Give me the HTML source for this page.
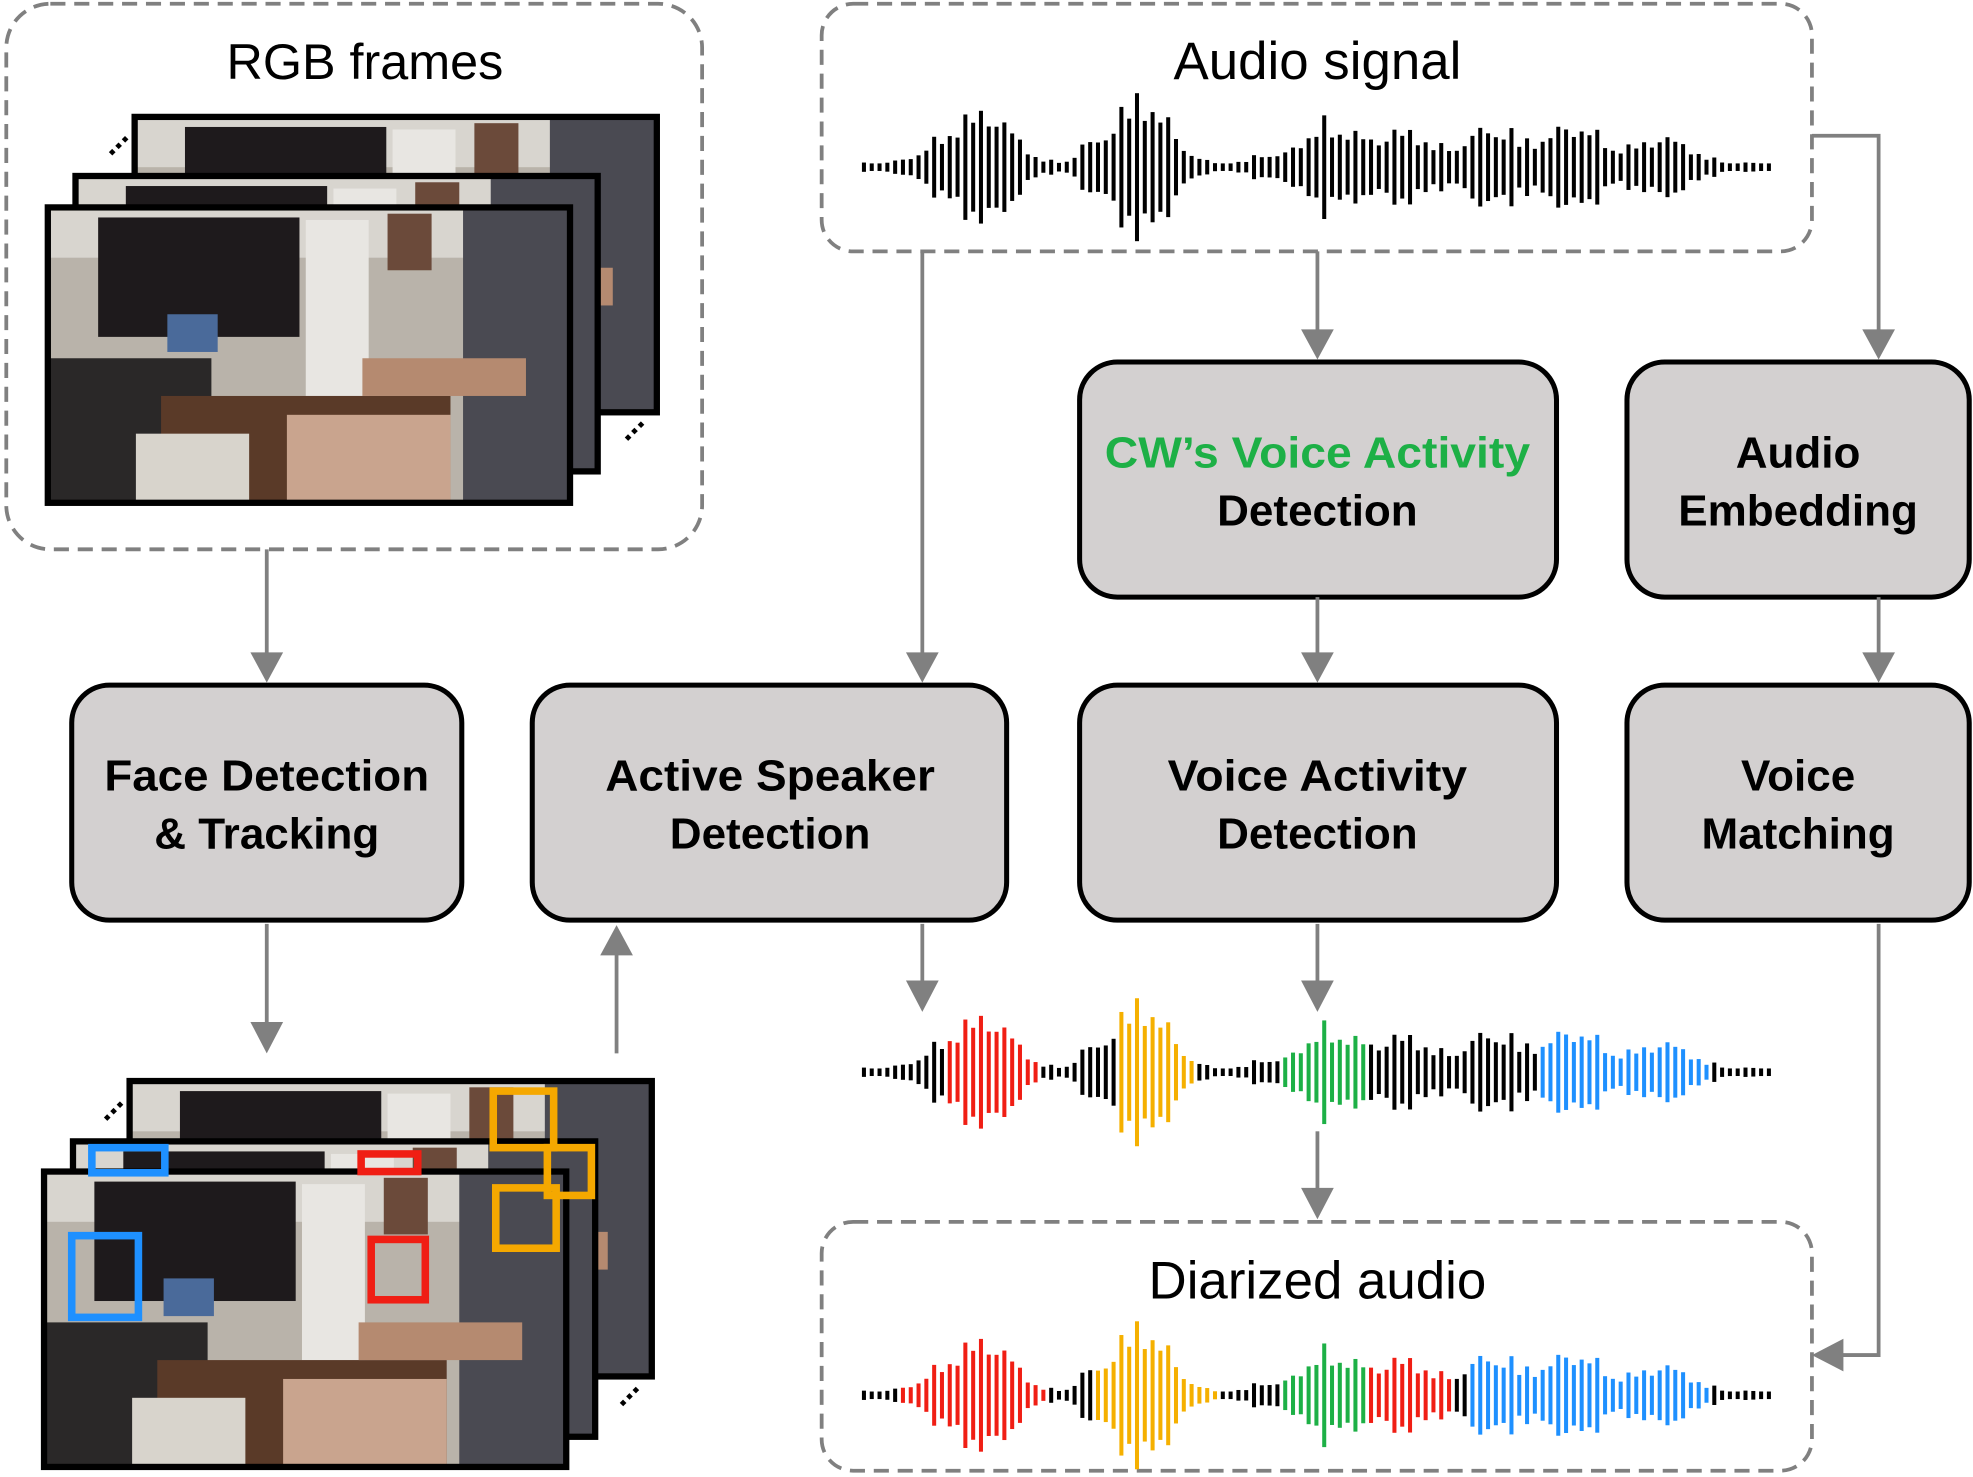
<!DOCTYPE html>
<html><head><meta charset="utf-8"><style>
html,body{margin:0;padding:0;background:#fff;}
svg{display:block;}
text{font-family:"Liberation Sans",sans-serif;}
</style></head><body>
<svg id="s" width="1973" height="1477" viewBox="0 0 1568 1175" preserveAspectRatio="none" xmlns="http://www.w3.org/2000/svg">
<defs>
<g id="photo">
  <rect x="0" y="0" width="415" height="235" fill="#b9b3aa"/>
  <rect x="0" y="0" width="415" height="40" fill="#d8d5cf"/>
  <rect x="40" y="8" width="160" height="95" fill="#1e1a1c"/>
  <rect x="205" y="10" width="50" height="140" fill="#e8e6e2"/>
  <rect x="270" y="5" width="35" height="45" fill="#6b4a3a"/>
  <rect x="330" y="0" width="85" height="235" fill="#4a4a52"/>
  <rect x="0" y="120" width="130" height="115" fill="#2a2828"/>
  <rect x="90" y="150" width="230" height="85" fill="#5a3a28"/>
  <rect x="70" y="180" width="90" height="55" fill="#d8d4cc"/>
  <rect x="190" y="165" width="130" height="70" fill="#c9a48e"/>
  <rect x="95" y="85" width="40" height="30" fill="#4a6a9a"/>
  <rect x="250" y="120" width="130" height="30" fill="#b58a70"/>
</g>
<g id="frame"><use href="#photo"/><rect x="0" y="0" width="415" height="235" fill="none" stroke="#000" stroke-width="5"/></g>
</defs>

<rect x="5" y="3" width="553" height="434" rx="35" fill="none" stroke="#808080" stroke-width="3" stroke-dasharray="12,7"/>
<text x="290" y="63" font-size="40" text-anchor="middle">RGB frames</text>
<use href="#frame" x="107" y="93"/>
<use href="#frame" x="60" y="140"/>
<use href="#frame" x="38" y="165"/>
<text x="88" y="125" font-size="26" font-weight="bold" transform="rotate(-45 88 125)">...</text>
<text x="498" y="352" font-size="26" font-weight="bold" transform="rotate(-45 498 352)">...</text>

<rect x="653" y="3" width="787" height="197" rx="25" fill="none" stroke="#808080" stroke-width="3" stroke-dasharray="12,7"/>
<text x="1047" y="63" font-size="42" text-anchor="middle">Audio signal</text>
<g id="w1"></g>

<rect x="653" y="972" width="787" height="198" rx="25" fill="none" stroke="#808080" stroke-width="3" stroke-dasharray="12,7"/>
<text x="1047" y="1033" font-size="42" text-anchor="middle">Diarized audio</text>
<g id="w2"></g><g id="w3"></g>

<g stroke="#000" stroke-width="4" fill="#d3d0d0">
<rect x="858" y="288" width="379" height="187" rx="30"/>
<rect x="1293" y="288" width="272" height="187" rx="30"/>
<rect x="57" y="545" width="310" height="187" rx="30"/>
<rect x="423" y="545" width="377" height="187" rx="30"/>
<rect x="858" y="545" width="379" height="187" rx="30"/>
<rect x="1293" y="545" width="272" height="187" rx="30"/>
</g>
<g font-size="35" font-weight="bold" text-anchor="middle" fill="#000">
<text x="1047" y="372" fill="#1db046" textLength="338" lengthAdjust="spacingAndGlyphs">CW’s Voice Activity</text>
<text x="1047" y="418">Detection</text>
<text x="1429" y="372">Audio</text>
<text x="1429" y="418">Embedding</text>
<text x="212" y="629" textLength="258" lengthAdjust="spacingAndGlyphs">Face Detection</text>
<text x="212" y="675">&amp; Tracking</text>
<text x="612" y="629" textLength="262" lengthAdjust="spacingAndGlyphs">Active Speaker</text>
<text x="612" y="675">Detection</text>
<text x="1047" y="629" textLength="238" lengthAdjust="spacingAndGlyphs">Voice Activity</text>
<text x="1047" y="675">Detection</text>
<text x="1429" y="629">Voice</text>
<text x="1429" y="675">Matching</text>
</g>

<g stroke="#808080" stroke-width="3" fill="none">
<polyline points="1440,108 1493,108 1493,265"/>
<line x1="1047" y1="200" x2="1047" y2="265"/>
<line x1="733" y1="200" x2="733" y2="522"/>
<line x1="212" y1="437" x2="212" y2="522"/>
<line x1="1047" y1="475" x2="1047" y2="522"/>
<line x1="1493" y1="475" x2="1493" y2="522"/>
<line x1="212" y1="735" x2="212" y2="816"/>
<line x1="490" y1="838" x2="490" y2="758"/>
<line x1="733" y1="735" x2="733" y2="783"/>
<line x1="1047" y1="735" x2="1047" y2="783"/>
<line x1="1047" y1="900" x2="1047" y2="948"/>
<polyline points="1493,735 1493,1078 1462,1078"/>
</g>
<g fill="#808080">
<polygon points="1480,262 1506,262 1493,286"/>
<polygon points="1034,262 1060,262 1047,286"/>
<polygon points="720,519 746,519 733,543"/>
<polygon points="199,519 225,519 212,543"/>
<polygon points="1034,519 1060,519 1047,543"/>
<polygon points="1480,519 1506,519 1493,543"/>
<polygon points="199,813 225,813 212,838"/>
<polygon points="477,760 503,760 490,736"/>
<polygon points="720,780 746,780 733,805"/>
<polygon points="1034,780 1060,780 1047,805"/>
<polygon points="1034,945 1060,945 1047,970"/>
<polygon points="1465,1065 1465,1091 1440,1078"/>
</g>

<use href="#frame" x="103" y="860"/>
<use href="#frame" x="58" y="908"/>
<use href="#frame" x="35" y="932"/>
<g fill="none" stroke-width="6">
<rect x="392" y="868" width="48" height="45" stroke="#f5a800"/>
<rect x="435" y="913" width="35" height="38" stroke="#f5a800"/>
<rect x="73" y="913" width="58" height="20" stroke="#1e90ff"/>
<rect x="287" y="918" width="45" height="14" stroke="#f01e14"/>
<rect x="57" y="983" width="53" height="65" stroke="#1e90ff"/>
<rect x="295" y="986" width="43" height="48" stroke="#f01e14"/>
<rect x="394" y="945" width="48" height="48" stroke="#f5a800"/>
</g>
<text x="84" y="893" font-size="26" font-weight="bold" transform="rotate(-45 84 893)">...</text>
<text x="494" y="1120" font-size="26" font-weight="bold" transform="rotate(-45 494 1120)">...</text>
</svg>
<script>
(function(){
var NS="http://www.w3.org/2000/svg";
function env(x){
  var b=[[760,30,30],[790,25,34],[895,28,38],[915,25,34],[1055,30,38],[1115,28,30],[1185,30,34],[1250,30,36],[1320,30,24],[860,8,10],[1000,10,8]];
  var a=4;
  for(var i=0;i<b.length;i++){var d=(x-b[i][0])/b[i][1];a+=b[i][2]*Math.exp(-d*d);}
  return a;
}
function draw(id,y,cols){
  var g=document.getElementById(id);var k=0;
  for(var x=685;x<=1410;x+=6.2){
    k++;
    var m=0.55+0.45*Math.abs(Math.sin(k*1.7)*Math.cos(k*0.63));
    var h=Math.max(3,env(x)*m);
    var c="#000";
    for(var i=0;i<cols.length;i++){if(x>=cols[i][0]&&x<=cols[i][1])c=cols[i][2];}
    var l=document.createElementNS(NS,"rect");
    l.setAttribute("x",x);l.setAttribute("y",y-h);l.setAttribute("width",3.2);l.setAttribute("height",2*h);l.setAttribute("fill",c);
    g.appendChild(l);
  }
}
draw("w1",133,[]);
draw("w2",853,[[748,822,"#f01e14"],[886,950,"#f5b000"],[1018,1082,"#1db046"],[1222,1358,"#1e90ff"]]);
draw("w3",1110,[[712,832,"#f01e14"],[870,970,"#f5b000"],[1016,1082,"#1db046"],[1086,1152,"#f01e14"],[1168,1358,"#1e90ff"]]);
})();
</script>
</body></html>
